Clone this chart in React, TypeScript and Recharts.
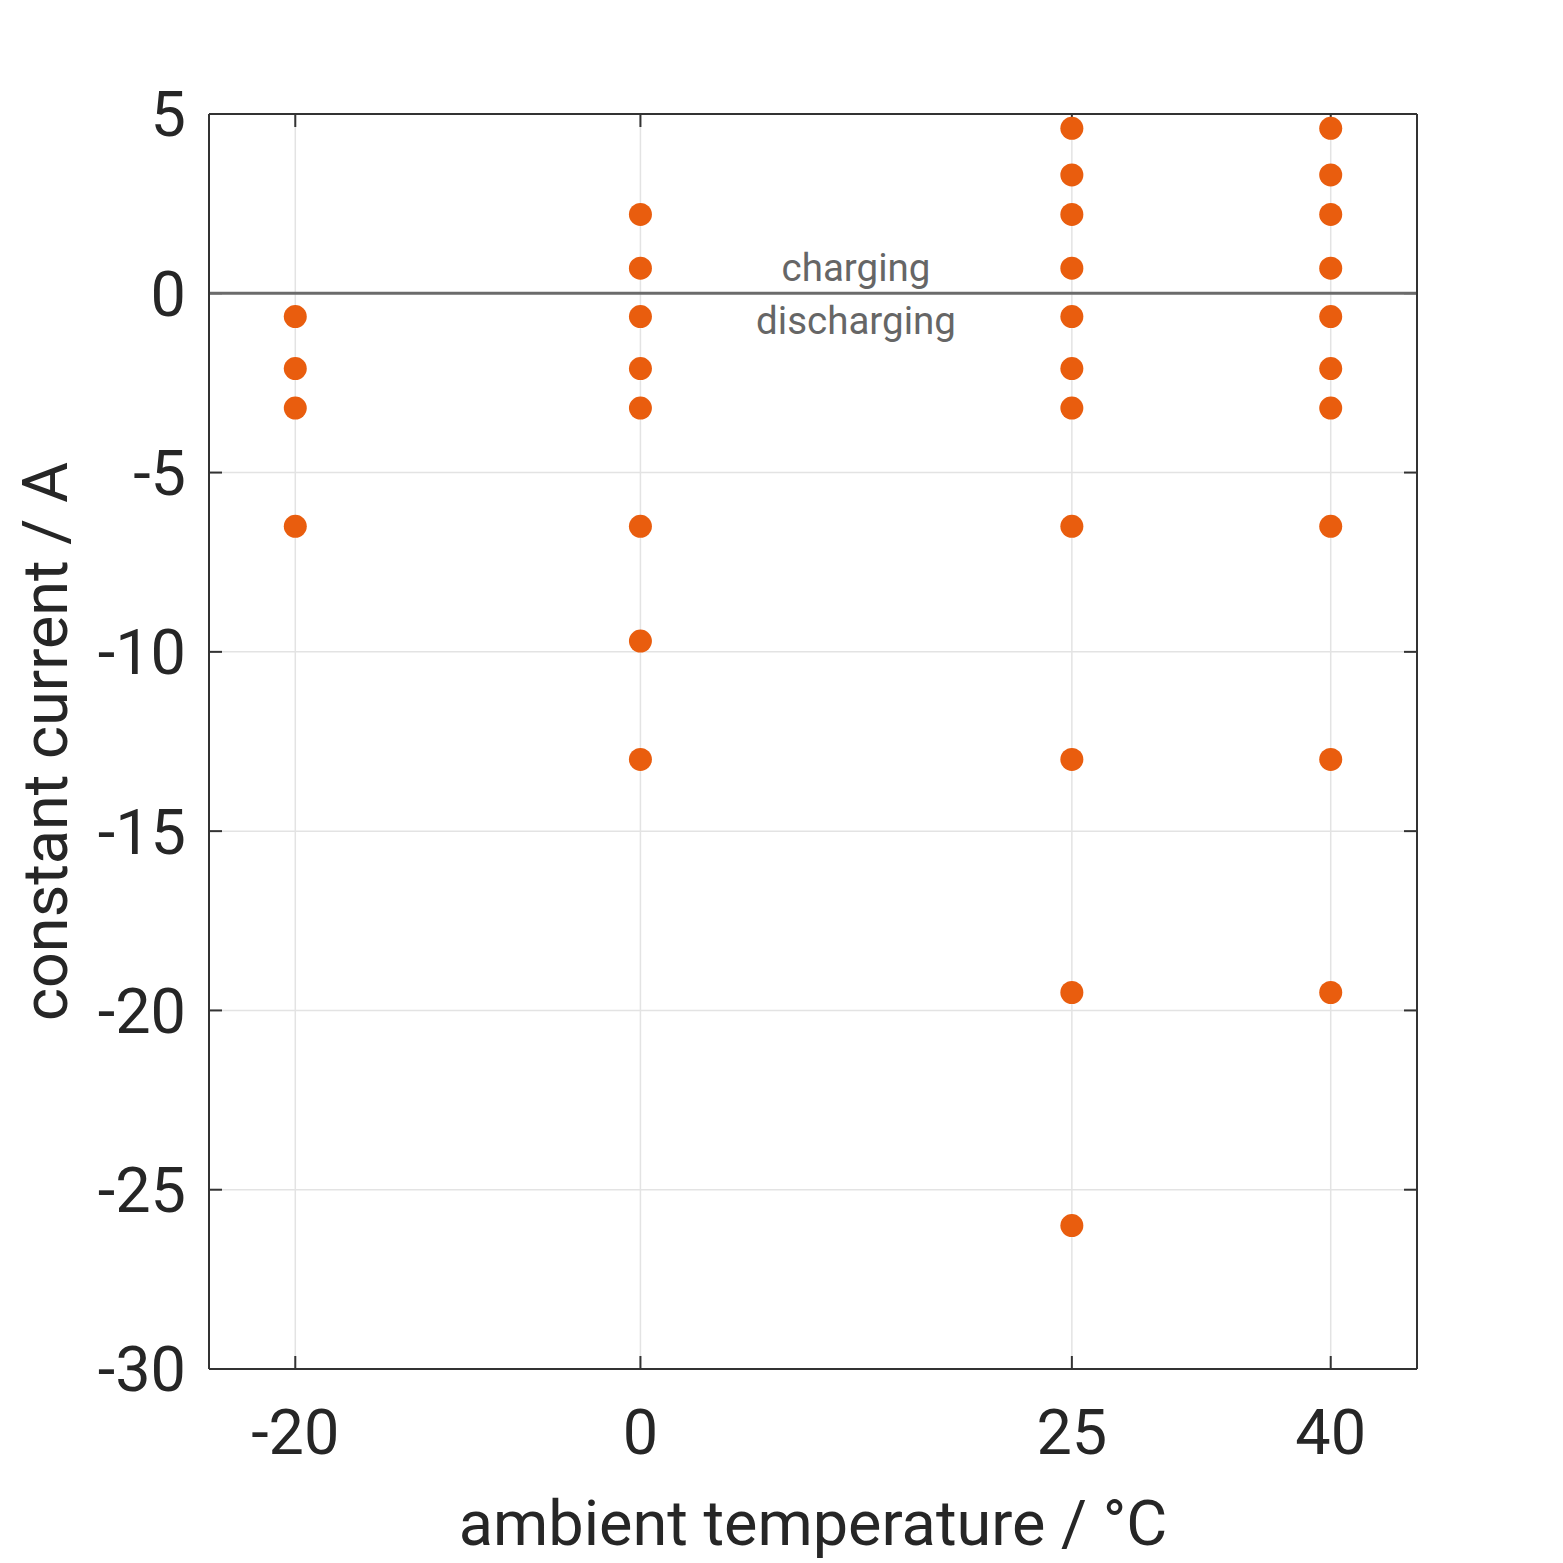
import React from "react"
import {
  ScatterChart,
  Scatter,
  XAxis,
  YAxis,
  CartesianGrid,
  ReferenceLine,
} from "recharts"

const temperatureTicks = [-20, 0, 25, 40]
const currentTicks = [-30, -25, -20, -15, -10, -5, 0, 5]

const currentsAtMinus20 = [-0.65, -2.1, -3.2, -6.5]
const currentsAt0 = [2.2, 0.7, -0.65, -2.1, -3.2, -6.5, -9.7, -13]
const currentsAt25 = [4.6, 3.3, 2.2, 0.7, -0.65, -2.1, -3.2, -6.5, -13, -19.5, -26]
const currentsAt40 = [4.6, 3.3, 2.2, 0.7, -0.65, -2.1, -3.2, -6.5, -13, -19.5]

const points = [
  ...currentsAtMinus20.map((c) => ({ t: -20, c })),
  ...currentsAt0.map((c) => ({ t: 0, c })),
  ...currentsAt25.map((c) => ({ t: 25, c })),
  ...currentsAt40.map((c) => ({ t: 40, c })),
]

const X_DOMAIN = [-25, 45]
const Y_DOMAIN = [-30, 5]
// inward tick length (~13px) expressed in axis units
const X_TICK_LEN = 0.754
const Y_TICK_LEN = 0.363

const TEXT = "#262626"
const FRAME = "#333333"
const ORANGE = "#E95D0E"
const FONT = 63

const Dot = (props: any) => <circle cx={props.cx} cy={props.cy} r={11.5} fill={ORANGE} />
const NoDot = () => null

const XTick = (props: any) => (
  <text x={props.x} y={props.y} dy="0.71em" textAnchor="middle" fill={TEXT} fontSize={FONT}>
    {props.payload.value}
  </text>
)

const YTick = (props: any) => (
  <text x={props.x} y={props.y} dy="0.355em" textAnchor="end" fill={TEXT} fontSize={FONT}>
    {props.payload.value}
  </text>
)

export default function App() {
  const tickMarks = [
    ...temperatureTicks.map((t) => [
      { x: t, y: Y_DOMAIN[0] },
      { x: t, y: Y_DOMAIN[0] + Y_TICK_LEN },
    ]),
    ...temperatureTicks.map((t) => [
      { x: t, y: Y_DOMAIN[1] },
      { x: t, y: Y_DOMAIN[1] - Y_TICK_LEN },
    ]),
    ...currentTicks.map((v) => [
      { x: X_DOMAIN[0], y: v },
      { x: X_DOMAIN[0] + X_TICK_LEN, y: v },
    ]),
    ...currentTicks.map((v) => [
      { x: X_DOMAIN[1], y: v },
      { x: X_DOMAIN[1] - X_TICK_LEN, y: v },
    ]),
  ]

  return (
    <div style={{ position: "absolute", left: 0, top: 0, background: "#fff" }}>
      <ScatterChart
        width={1563}
        height={1563}
        margin={{ top: 114, right: 146, bottom: 0, left: 0 }}
        style={{ fontFamily: "Roboto" }}
      >
        <CartesianGrid xAxisId="b" yAxisId="l" stroke="#e3e3e3" strokeWidth={1.5} />
        <XAxis
          xAxisId="b"
          type="number"
          dataKey="t"
          domain={X_DOMAIN}
          ticks={temperatureTicks}
          interval={0}
          height={194}
          tickLine={false}
          tickSize={1}
          tickMargin={39}
          tick={XTick}
          stroke={FRAME}
          strokeWidth={2}
          label={{ value: "ambient temperature / °C", position: "center", dy: 57, fill: TEXT, fontSize: FONT }}
        />
        <XAxis
          xAxisId="top"
          orientation="top"
          type="number"
          dataKey="t"
          domain={X_DOMAIN}
          ticks={temperatureTicks}
          height={1}
          mirror
          tickLine={false}
          tick={false}
          stroke={FRAME}
          strokeWidth={2}
        />
        <YAxis
          yAxisId="l"
          type="number"
          dataKey="c"
          domain={Y_DOMAIN}
          ticks={currentTicks}
          interval={0}
          width={209}
          tickLine={false}
          tickSize={1}
          tickMargin={22}
          tick={YTick}
          stroke={FRAME}
          strokeWidth={2}
          label={{ value: "constant current / A", angle: -90, position: "center", dx: -60, fill: TEXT, fontSize: FONT }}
        />
        <YAxis
          yAxisId="r"
          orientation="right"
          type="number"
          dataKey="c"
          domain={Y_DOMAIN}
          ticks={currentTicks}
          width={1}
          mirror
          tickLine={false}
          tick={false}
          stroke={FRAME}
          strokeWidth={2}
        />
        {tickMarks.map((seg, i) => (
          <ReferenceLine key={i} xAxisId="b" yAxisId="l" segment={seg} stroke={FRAME} strokeWidth={2} />
        ))}
        <ReferenceLine
          xAxisId="b"
          yAxisId="l"
          y={0}
          stroke="#6b6b6b"
          strokeWidth={3}
          label={{ value: "charging", position: "top", offset: 12, dx: 43, fill: "#666", fontSize: 38.5 }}
        />
        <ReferenceLine
          xAxisId="b"
          yAxisId="l"
          y={0}
          stroke="none"
          label={{ value: "discharging", position: "bottom", offset: 13, dx: 43, fill: "#666", fontSize: 38.5 }}
        />
        <Scatter xAxisId="top" yAxisId="r" data={points} shape={NoDot} isAnimationActive={false} />
        <Scatter xAxisId="b" yAxisId="l" data={points} shape={Dot} isAnimationActive={false} />
      </ScatterChart>
    </div>
  )
}
